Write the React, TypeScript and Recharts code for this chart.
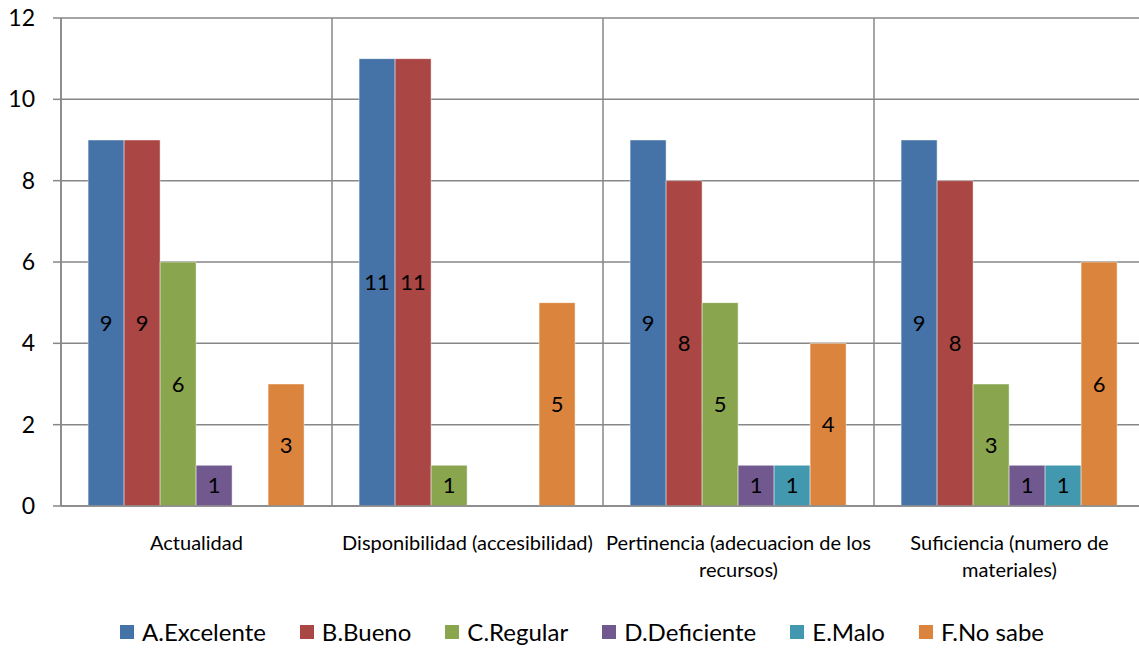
import React from 'react';
import { BarChart, Bar, XAxis, YAxis, CartesianGrid, LabelList, Legend } from 'recharts';

const FONT = "Lato, 'Noto Sans', sans-serif";
const GRID = '#878787';

const categories = [
  'Actualidad',
  'Disponibilidad (accesibilidad)',
  'Pertinencia (adecuacion de los recursos)',
  'Suficiencia (numero de materiales)',
];
const categoryLines = [
  ['Actualidad'],
  ['Disponibilidad (accesibilidad)'],
  ['Pertinencia (adecuacion de los', 'recursos)'],
  ['Suficiencia (numero de', 'materiales)'],
];

const excelente = [9, 11, 9, 9];
const bueno = [9, 11, 8, 8];
const regular = [6, 1, 5, 3];
const deficiente = [1, 0, 1, 1];
const malo = [0, 0, 1, 1];
const noSabe = [3, 5, 4, 6];

const yTicks = [0, 2, 4, 6, 8, 10, 12];
const boundaryTicks = [0, 1, 2, 3, 4];

const seriesKeys = ['A', 'B', 'C', 'D', 'E', 'F'];
const seriesNames = ['A.Excelente', 'B.Bueno', 'C.Regular', 'D.Deficiente', 'E.Malo', 'F.No sabe'];
const seriesColors = ['#4572A7', '#AA4643', '#89A54E', '#71588F', '#4198AF', '#DB843D'];
const seriesValues = [excelente, bueno, regular, deficiente, malo, noSabe];

const data = categories.map((name, i) => {
  const row: any = { name, idx: i };
  seriesKeys.forEach((k, s) => {
    row[k] = seriesValues[s][i];
  });
  return row;
});

const CategoryTick = (props: any) => {
  const { x, y, payload } = props;
  const lines = categoryLines[payload.index] || [String(payload.value)];
  return (
    <text x={x} y={y} textAnchor="middle" fontSize={20} fill="#000" fontFamily={FONT}>
      {lines.map((l, i) => (
        <tspan key={i} x={x} dy={i === 0 ? 44 : 27}>
          {l}
        </tspan>
      ))}
    </text>
  );
};

const renderLegend = () => (
  <div
    style={{
      display: 'flex',
      justifyContent: 'center',
      alignItems: 'center',
      height: 30,
      fontFamily: FONT,
      fontSize: 24,
      color: '#000',
      paddingLeft: 25,
      boxSizing: 'border-box',
    }}
  >
    {seriesKeys.map((k, s) => (
      <div
        key={k}
        style={{ display: 'flex', alignItems: 'center', marginRight: s === seriesKeys.length - 1 ? 0 : 34 }}
      >
        <span
          style={{ display: 'inline-block', width: 14, height: 14, background: seriesColors[s], marginRight: 8 }}
        />
        <span style={{ lineHeight: '30px' }}>{seriesNames[s]}</span>
      </div>
    ))}
  </div>
);

export default function App() {
  return (
    <div
      style={{
        position: 'fixed',
        top: 0,
        left: 0,
        width: 1139,
        height: 648,
        overflow: 'hidden',
        background: '#fff',
      }}
    >
      <BarChart
        width={1150}
        height={648}
        data={data}
        margin={{ top: 18, right: 5, left: 0, bottom: 0 }}
        barCategoryGap="10%"
        barGap={0}
      >
        <CartesianGrid stroke={GRID} strokeWidth={1.5} xAxisId={0} vertical={true} horizontal={true} />
        <XAxis
          xAxisId={0}
          type="number"
          dataKey="idx"
          domain={[0, 4]}
          ticks={boundaryTicks}
          allowDataOverflow
          height={0}
          axisLine={false}
          tickLine={{ stroke: GRID, strokeWidth: 1.5 }}
          tickSize={7}
          tickFormatter={() => ''}
        />
        <XAxis
          xAxisId={1}
          dataKey="name"
          height={112}
          axisLine={{ stroke: GRID, strokeWidth: 1.5 }}
          tickLine={false}
          tickSize={0}
          tickMargin={0}
          interval={0}
          tick={<CategoryTick />}
        />
        <YAxis
          width={61}
          domain={[0, 12]}
          ticks={yTicks}
          interval={0}
          axisLine={{ stroke: GRID, strokeWidth: 1.5 }}
          tickLine={{ stroke: GRID, strokeWidth: 1.5 }}
          tickSize={8}
          tickMargin={18}
          tick={{ fontSize: 23, fill: '#000', fontFamily: FONT }}
        />
        <Legend
          verticalAlign="bottom"
          content={renderLegend}
          wrapperStyle={{ left: 0, width: 1139, top: 617, bottom: 'auto', height: 30 }}
        />
        {seriesKeys.map((k, s) => (
          <Bar
            key={k}
            xAxisId={1}
            dataKey={k}
            name={seriesNames[s]}
            fill={seriesColors[s]}
            stroke="rgba(255,255,255,0.45)"
            strokeWidth={1}
            isAnimationActive={false}
          >
            <LabelList
              dataKey={k}
              position="center"
              fontSize={22}
              fill="#000"
              fontFamily={FONT}
              formatter={(v: any) => (v === 0 ? '' : v)}
            />
          </Bar>
        ))}
      </BarChart>
    </div>
  );
}
